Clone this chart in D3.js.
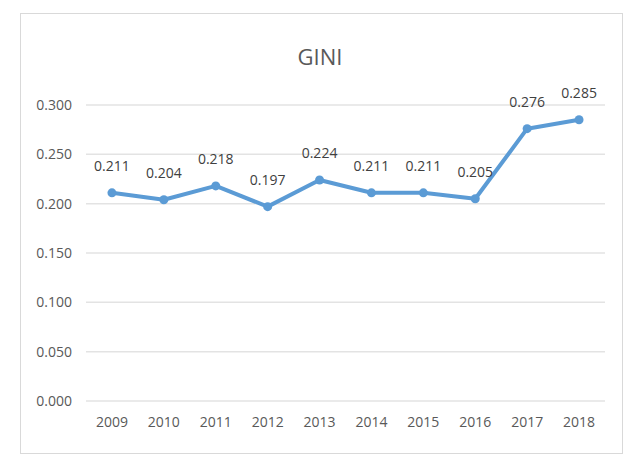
<!DOCTYPE html>
<html>
<head>
<meta charset="utf-8">
<script src="https://cdn.jsdelivr.net/npm/d3@7"></script>
<style>
  body { margin: 0; background: #fff; }
  text { font-family: "Open Sans", sans-serif; }
</style>
</head>
<body>
<div id="chart"></div>
<script>
// chart data
var years = ['2009', '2010', '2011', '2012', '2013', '2014', '2015', '2016', '2017', '2018'];
var gini = [0.211, 0.204, 0.218, 0.197, 0.224, 0.211, 0.211, 0.205, 0.276, 0.285];
var yTicks = [0, 0.05, 0.1, 0.15, 0.2, 0.25, 0.3];

var w = 626;
var h = 458;
var plotLeft = 86, plotRight = 605, plotTop = 105, plotBottom = 401;

var svg = d3.select('#chart')
  .append('svg')
  .attr('width', w)
  .attr('height', h);

// chart frame
svg.append('rect')
  .attr('x', 20.5).attr('y', 13.5)
  .attr('width', 602).attr('height', 440)
  .attr('fill', '#fff')
  .attr('stroke', '#d9d9d9');

var xScale = d3.scaleBand()
  .domain(years).range([plotLeft, plotRight]);
var yScale = d3.scaleLinear()
  .domain([0, 0.3]).range([plotBottom, plotTop]);

// gridlines
svg.append('g')
  .selectAll('line')
  .data(yTicks)
  .enter()
  .append('line')
  .attr('x1', plotLeft).attr('x2', plotRight)
  .attr('y1', function(d) { return yScale(d); })
  .attr('y2', function(d) { return yScale(d); })
  .attr('stroke', '#e3e3e3')
  .attr('stroke-width', 1.5);

// y axis labels
var yAxis = d3.axisLeft(yScale)
  .tickValues(yTicks)
  .tickFormat(d3.format('.3f'))
  .tickSize(0)
  .tickPadding(14);
var gy = svg.append('g')
  .attr('transform', 'translate(' + plotLeft + ',0)')
  .call(yAxis);
gy.select('.domain').remove();
gy.selectAll('text').attr('fill', '#595959').style('font-size', '14px').style('font-family', '"Open Sans", sans-serif');

// x axis labels
var xAxis = d3.axisBottom(xScale).tickSize(0).tickPadding(16);
var gx = svg.append('g')
  .attr('transform', 'translate(0,' + plotBottom + ')')
  .call(xAxis);
gx.select('.domain').remove();
gx.selectAll('text').attr('fill', '#595959').style('font-size', '14px').style('font-family', '"Open Sans", sans-serif');

// title
svg.append('text')
  .attr('x', 320).attr('y', 65)
  .attr('text-anchor', 'middle')
  .attr('fill', '#595959')
  .style('font-size', '22px')
  .text('GINI');

// line
var line = d3.line()
  .x(function(d, i) { return xScale(years[i]) + xScale.bandwidth() / 2; })
  .y(function(d) { return yScale(d); });

svg.append('path')
  .datum(gini)
  .attr('d', line)
  .attr('fill', 'none')
  .attr('stroke', '#5b9bd5')
  .attr('stroke-width', 4)
  .attr('stroke-linejoin', 'round');

svg.selectAll('circle.pt')
  .data(gini)
  .enter()
  .append('circle')
  .attr('class', 'pt')
  .attr('cx', function(d, i) { return xScale(years[i]) + xScale.bandwidth() / 2; })
  .attr('cy', function(d) { return yScale(d); })
  .attr('r', 4.5)
  .attr('fill', '#5b9bd5');

// data labels
svg.selectAll('text.lbl')
  .data(gini)
  .enter()
  .append('text')
  .attr('class', 'lbl')
  .attr('x', function(d, i) { return xScale(years[i]) + xScale.bandwidth() / 2; })
  .attr('y', function(d) { return yScale(d) - 22; })
  .attr('text-anchor', 'middle')
  .attr('fill', '#404040')
  .style('font-size', '14px')
  .text(function(d) { return d3.format('.3f')(d); });
</script>
</body>
</html>
